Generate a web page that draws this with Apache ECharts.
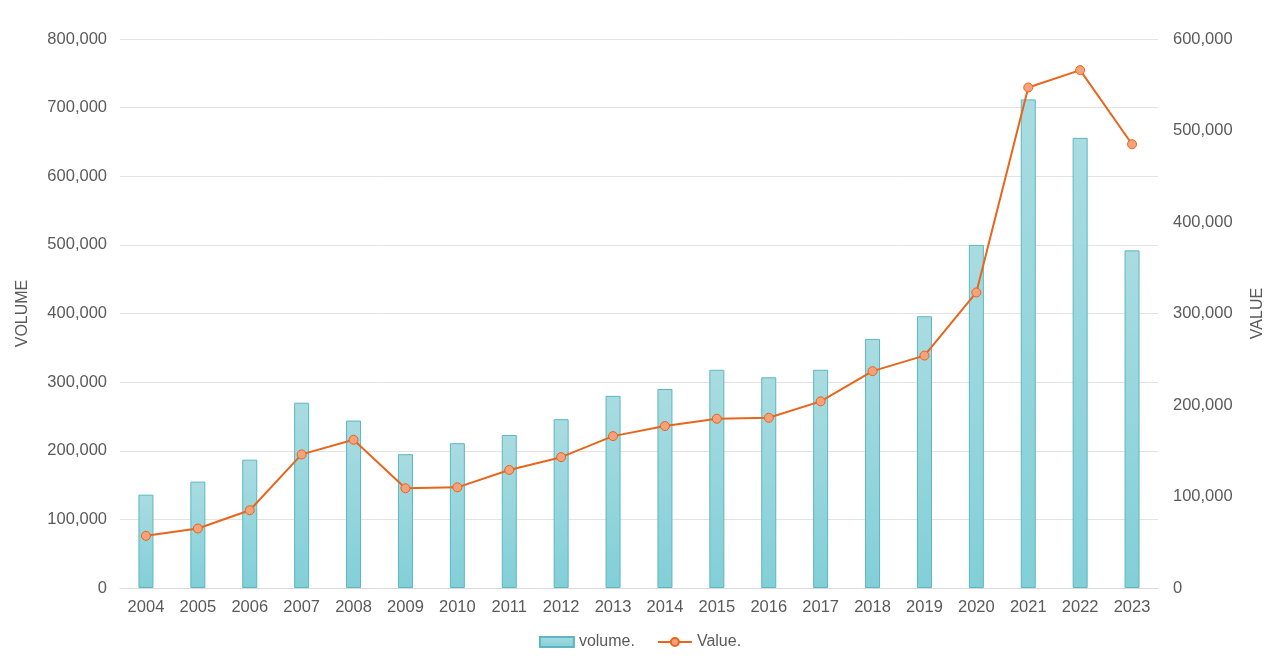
<!DOCTYPE html>
<html><head><meta charset="utf-8">
<script src="https://cdn.jsdelivr.net/npm/echarts@6/dist/echarts.min.js"></script>
<style>html,body{margin:0;padding:0;background:#fff}#c{width:1280px;height:663px}</style>
</head><body><div id="c"></div>
<script>
const years = ['2004','2005','2006','2007','2008','2009','2010','2011','2012','2013','2014','2015','2016','2017','2018','2019','2020','2021','2022','2023'];
const volume = [136000,155000,187000,270000,244000,195000,211000,223000,246000,280000,290000,318000,307000,318000,363000,396000,500000,712000,656000,492000];
const value = [57000,65000,85000,146000,162000,109000,110000,129000,143000,166000,177000,185000,186000,204000,237000,254000,323000,547000,566000,485000];

const chart = echarts.init(document.getElementById('c'));
const fmt = v => v.toLocaleString('en-US');
const ff = 'Liberation Sans, Arial, sans-serif';
const lbl = {color:'#5a5a5a', fontSize:16.5, fontFamily:ff};
chart.setOption({
  animation:false,
  grid:{left:120,right:122,top:39,bottom:75},
  legend:{bottom:8,left:'center',itemGap:22,textStyle:{color:'#5a5a5a',fontSize:16,fontFamily:ff},
    data:[{name:'volume.',icon:'rect'},{name:'Value.'}],itemWidth:34,itemHeight:10},
  xAxis:{type:'category',data:years,axisTick:{show:false},axisLine:{lineStyle:{color:'#d9d9d9'}},
    axisLabel:Object.assign({margin:11},lbl)},
  yAxis:[
    {type:'value',min:0,max:800000,interval:100000,name:'VOLUME',nameLocation:'middle',nameGap:89,
     nameTextStyle:{color:'#5a5a5a',fontSize:16,fontFamily:ff},axisLabel:Object.assign({formatter:fmt,margin:13},lbl),
     splitLine:{lineStyle:{color:'#e3e3e3'}},axisLine:{show:false},axisTick:{show:false}},
    {type:'value',min:0,max:600000,interval:100000,name:'VALUE',nameLocation:'middle',nameGap:92,
     nameTextStyle:{color:'#5a5a5a',fontSize:16,fontFamily:ff},axisLabel:Object.assign({formatter:fmt,margin:15},lbl),
     splitLine:{show:false},axisLine:{show:false},axisTick:{show:false}}
  ],
  series:[
    {name:'volume.',type:'bar',data:volume,barWidth:15,yAxisIndex:0,
     itemStyle:{color:new echarts.graphic.LinearGradient(0,0,0,1,[{offset:0,color:'#a9dce1'},{offset:1,color:'#82cfd8'}]),
       borderColor:'#5db6c1',borderWidth:1}},
    {name:'Value.',type:'line',data:value,yAxisIndex:1,symbol:'circle',symbolSize:9,
     lineStyle:{color:'#e8651c',width:2},
     itemStyle:{color:'#f5a27c',borderColor:'#e8651c',borderWidth:1}}
  ]
});
</script></body></html>
